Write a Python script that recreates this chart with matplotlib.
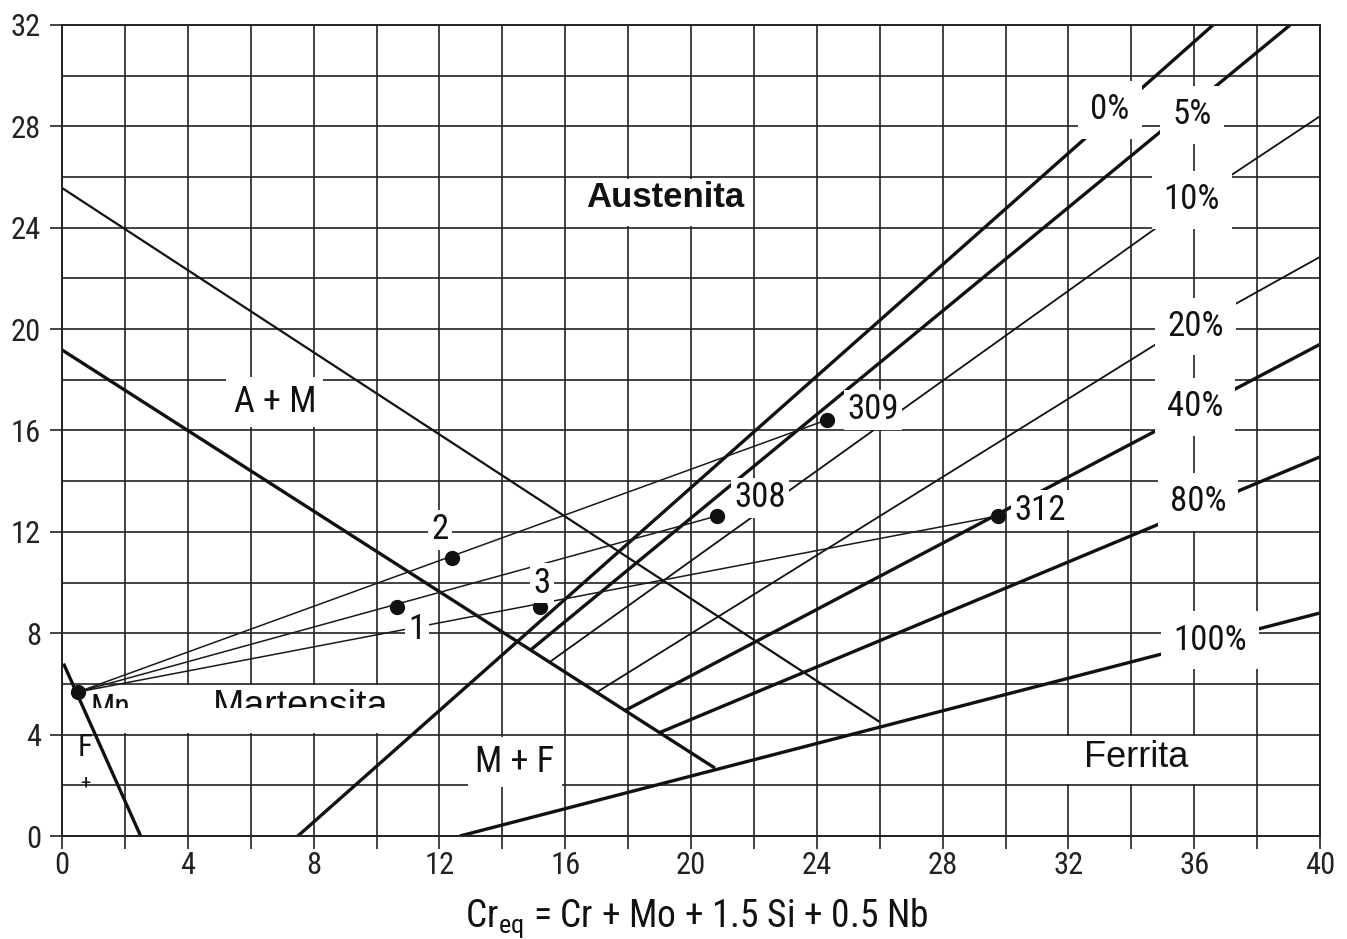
import matplotlib
matplotlib.use('Agg')
import matplotlib.pyplot as plt
from matplotlib import font_manager
from matplotlib.patches import Rectangle
from matplotlib.transforms import Bbox, TransformedBbox

# ---------------- data ----------------
x_ticks = [0, 2, 4, 6, 8, 10, 12, 14, 16, 18, 20, 22, 24, 26, 28, 30, 32, 34, 36, 38, 40]
x_tick_labels = ['0', '', '4', '', '8', '', '12', '', '16', '', '20', '', '24', '', '28', '', '32', '', '36', '', '40']
y_ticks = [0, 4, 8, 12, 16, 20, 24, 28, 32]
y_tick_labels = ['0', '4', '8', '12', '16', '20', '24', '28', '32']
y_minor = [2, 6, 10, 14, 18, 22, 26, 30]

# phase boundaries
boundary_x = [[0.0, 26.0], [0.0, 20.76], [0.05, 2.5]]
boundary_y = [[25.57, 4.5], [19.18, 2.68], [6.8, 0.0]]
boundary_lw = [1.6, 2.4, 2.4]

# ferrite iso-lines
ferrite_labels = ['0%', '5%', '10%', '20%', '40%', '80%', '100%']
ferrite_x = [[7.5, 36.6], [14.9, 39.05], [15.5, 34.8, 36.6, 40.0], [17.0, 35.0, 36.8, 40.0],
             [17.9, 40.0], [19.0, 40.0], [12.65, 40.0]]
ferrite_y = [[0.0, 32.0], [7.34, 32.0], [6.86, 24.0, 25.6, 28.4], [5.67, 19.57, 20.64, 22.85],
             [4.95, 19.4], [4.08, 14.96], [0.0, 8.8]]
ferrite_lw = [2.4, 2.4, 1.3, 1.3, 2.4, 2.4, 2.4]
ferrite_label_x = [33.32, 35.93, 35.93, 36.03, 36.03, 36.12, 36.5]
ferrite_label_y = [28.65, 28.45, 25.1, 20.09, 16.93, 13.18, 7.73]

# weld points
point_names = ['Mn', '1', '2', '3', '308', '309', '312']
point_x = [0.5, 10.65, 12.4, 15.2, 20.83, 24.32, 29.76]
point_y = [5.68, 9.04, 10.97, 9.04, 12.63, 16.42, 12.63]
label_names = ['1', '2', '3', '308', '309', '312']
label_x = [11.29, 12.02, 15.26, 22.19, 25.79, 31.1]
label_y = [8.13, 12.08, 9.98, 13.34, 16.81, 12.86]

# dilution (tie) lines
tie_pairs = [('Mn', '308'), ('Mn', '309'), ('Mn', '312')]

# ---------------- fonts ----------------
names = {f.name for f in font_manager.fontManager.ttflist}
NARROW = [n for n in ['Roboto Condensed', 'Archivo Narrow', 'Liberation Sans'] if n in names] + ['DejaVu Sans']
REG = ['Liberation Sans', 'DejaVu Sans']
plt.rcParams['mathtext.fontset'] = 'custom'
plt.rcParams['mathtext.rm'] = NARROW[0]
plt.rcParams['mathtext.it'] = NARROW[0]

# ---------------- figure ----------------
W, H = 1347, 939
fig = plt.figure(figsize=(W / 100, H / 100), dpi=100)
ax = fig.add_axes([62 / W, 1 - 836 / H, (1320 - 62) / W, (836 - 25) / H])
ax.set_xlim(0, 40)
ax.set_ylim(0, 32)

ax.set_xticks(x_ticks)
ax.set_xticklabels(x_tick_labels, family=NARROW, fontsize=22, color='#222222')
ax.set_yticks(y_ticks)
ax.set_yticklabels(y_tick_labels, family=NARROW, fontsize=22, color='#222222')
ax.set_yticks(y_minor, minor=True)
ax.tick_params(axis='x', which='major', length=9, width=1.2, pad=2, color='#222222')
ax.tick_params(axis='y', which='major', length=9, width=1.2, pad=6, color='#222222')
ax.tick_params(axis='y', which='minor', length=0)
ax.set_axisbelow(True)
ax.grid(True, which='both', color='#222222', linewidth=1.2)
for s in ax.spines.values():
    s.set_color('#222222')
    s.set_linewidth(1.4)

# white text boxes hiding grid
for (x0, y0, w, h) in [(16.06, 24.06, 5.88, 1.88), (1.9, 4.06, 10.0, 1.88), (31.8, 2.06, 4.6, 1.88)]:
    ax.add_patch(Rectangle((x0, y0), w, h, facecolor='white', edgecolor='none', zorder=1))

# lines
for bx, by, lw in zip(boundary_x, boundary_y, boundary_lw):
    ax.plot(bx, by, color='#111111', lw=lw, zorder=2, solid_capstyle='butt')
for fx, fy, lw in zip(ferrite_x, ferrite_y, ferrite_lw):
    ax.plot(fx, fy, color='#111111', lw=lw, zorder=2, solid_capstyle='butt')

idx = {n: i for i, n in enumerate(point_names)}
for a, b in tie_pairs:
    ax.plot([point_x[idx[a]], point_x[idx[b]]], [point_y[idx[a]], point_y[idx[b]]],
            color='#1a1a1a', lw=1.1, zorder=2)
ax.plot(point_x, point_y, 'o', color='#111111', markersize=10, zorder=3, linestyle='none')

# labels
bb = dict(boxstyle='square,pad=0.2', facecolor='white', edgecolor='none')
for t, x, y in zip(ferrite_labels, ferrite_label_x, ferrite_label_y):
    ax.text(x, y, t, ha='center', va='center', family=NARROW, fontsize=25, color='#111111',
            bbox=dict(boxstyle='square,pad=0.35', facecolor='white', edgecolor='none'), zorder=4)
for t, x, y in zip(label_names, label_x, label_y):
    ax.text(x, y, t, ha='center', va='center', family=NARROW, fontsize=25, color='#111111',
            bbox=dict(boxstyle='square,pad=0.1', facecolor='white', edgecolor='none'), zorder=4)

ax.text(19.17, 25.2, 'Austenita', ha='center', va='center', family=REG, fontsize=25,
        fontweight='bold', color='#111111', zorder=4)
ax.text(6.77, 17.13, 'A + M', ha='center', va='center', family=NARROW, fontsize=26,
        color='#111111', bbox=bb, zorder=4)
ax.text(14.4, 2.92, 'M + F', ha='center', va='center', family=NARROW, fontsize=26,
        color='#111111', bbox=bb, zorder=4)
ax.text(34.17, 3.1, 'Ferrita', ha='center', va='center', family=REG, fontsize=26,
        color='#111111', zorder=4)
ax.text(0.73, 3.51, 'F', ha='center', va='center', family=NARROW, fontsize=22,
        color='#111111', zorder=4)
ax.text(0.73, 2.09, '+', ha='center', va='center', family=NARROW, fontsize=15,
        color='#111111', zorder=4)

cut = TransformedBbox(Bbox([[0, 5.05], [40, 32]]), ax.transData)
t1 = ax.text(7.57, 4.70, 'Martensita', ha='center', va='baseline', family=REG, fontsize=27,
             color='#111111', zorder=4)
t1.set_clip_path(None)
t1.set_clip_box(cut)
t1.set_clip_on(True)
t2 = ax.text(1.55, 4.72, 'Mn', ha='center', va='baseline', family=NARROW, fontsize=23,
             color='#111111', zorder=4)
t2.set_clip_path(None)
t2.set_clip_box(cut)
t2.set_clip_on(True)

fig.text(697 / W, 1 - 927 / H, r'Cr$_{\mathrm{eq}}$ = Cr + Mo + 1.5 Si + 0.5 Nb', ha='center',
         va='baseline', family=NARROW, fontsize=27, color='#111111')

fig.savefig('out.png', dpi=100, facecolor='white')
